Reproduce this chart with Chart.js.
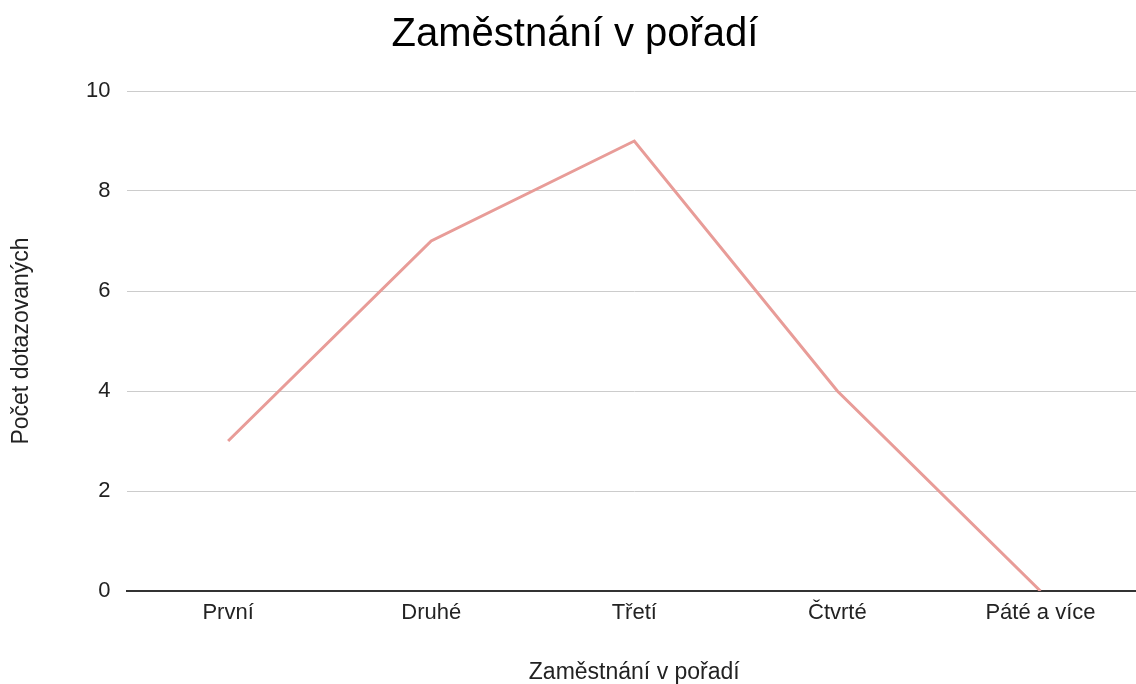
<!DOCTYPE html>
<html>
<head>
<meta charset="utf-8">
<script src="https://cdn.jsdelivr.net/npm/chart.js@4"></script>
<style>
  html, body { margin: 0; padding: 0; overflow: hidden; background: #fff; }
  #wrap { width: 1142px; height: 686px; }
</style>
</head>
<body>
<div id="wrap"><canvas id="c" width="1142" height="686"></canvas></div>
<script>
const categories = ["První", "Druhé", "Třetí", "Čtvrté", "Páté a více"];
const counts = [3, 7, 9, 4, 0];
const yTicks = [0, 2, 4, 6, 8, 10];
const chartTitle = "Zaměstnání v pořadí";
const xTitle = "Zaměstnání v pořadí";
const yTitle = "Počet dotazovaných";

const FONT = "'Liberation Sans', Arial, sans-serif";

new Chart(document.getElementById('c'), {
  type: 'line',
  data: {
    labels: categories,
    datasets: [{
      data: counts,
      borderColor: '#e89c98',
      borderWidth: 3,
      pointRadius: 0,
      tension: 0,
      fill: false
    }]
  },
  options: {
    responsive: false,
    devicePixelRatio: 1,
    animation: false,
    layout: { padding: { left: 8, right: 0, top: 0, bottom: 0 } },
    plugins: {
      legend: { display: false },
      tooltip: { enabled: false },
      title: {
        display: true,
        text: chartTitle,
        color: '#000',
        font: { family: FONT, size: 40, weight: 'normal' },
        padding: { top: 11, bottom: 32 }
      }
    },
    scales: {
      x: {
        offset: true,
        grid: { display: false, drawTicks: false },
        border: { display: true, color: '#333', width: 2 },
        ticks: {
          color: '#222',
          font: { family: FONT, size: 22 },
          padding: 9,
          maxRotation: 0
        },
        title: {
          display: true,
          text: xTitle,
          color: '#222',
          font: { family: FONT, size: 23 },
          padding: { top: 23, bottom: 0 }
        }
      },
      y: {
        min: 0,
        max: 10,
        afterBuildTicks: (scale) => { scale.ticks = yTicks.map(v => ({ value: v })); },
        grid: {
          drawTicks: false,
          color: (ctx) => ctx.tick && ctx.tick.value === 0 ? 'rgba(0,0,0,0)' : '#cccccc',
          lineWidth: 1
        },
        border: { display: false },
        ticks: {
          color: '#222',
          font: { family: FONT, size: 22 },
          padding: 16
        },
        title: {
          display: true,
          text: yTitle,
          color: '#222',
          font: { family: FONT, size: 23 },
          padding: { top: 0, bottom: 34.5 }
        }
      }
    }
  }
});
</script>
</body>
</html>
